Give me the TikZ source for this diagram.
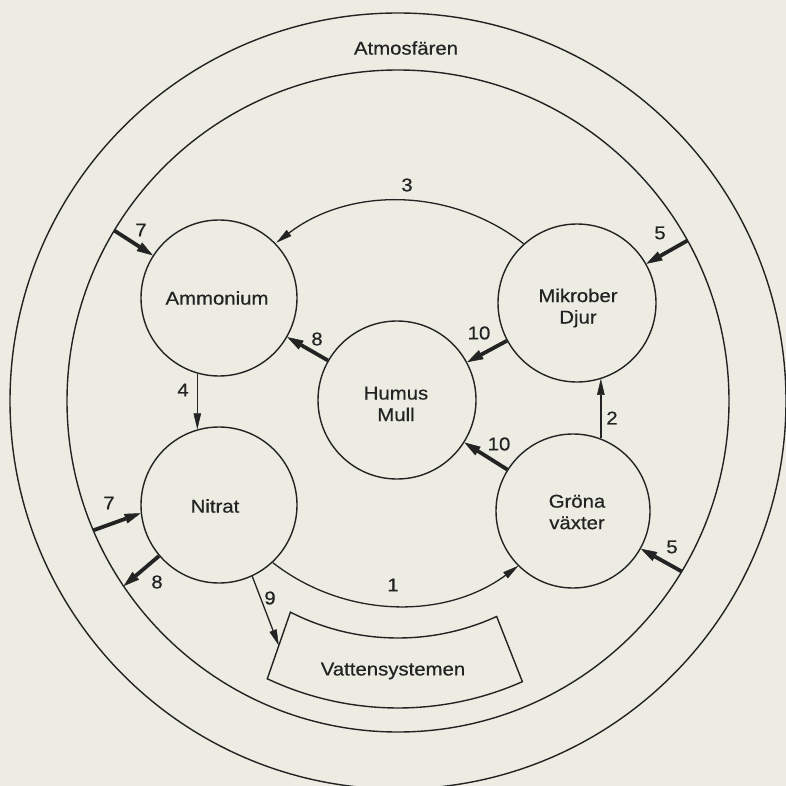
\documentclass[tikz,border=0pt]{standalone}
\usepackage{fontspec}
\setmainfont{Liberation Sans}[FakeStretch=1.1,FakeBold=0.5]
\usetikzlibrary{arrows.meta,calc}
\definecolor{bg}{RGB}{236,236,227}
\definecolor{ink}{RGB}{35,35,35}
\begin{document}
\begin{tikzpicture}[x=1pt,y=-1pt,
  txt/.style={font=\fontsize{18.5}{21.5}\selectfont, text=ink},
  ring/.style={draw=ink, line width=1.4pt},
  circ/.style={circle, draw=ink, line width=1.4pt, inner sep=0pt},
  thinarrow/.style={draw=ink, line width=1.3pt, -{Triangle[length=16pt,width=7.5pt,line width=0.5pt]}},
  thickarrow/.style={draw=ink, line width=3.8pt, -{Triangle[length=16pt,width=10pt,line width=0.5pt]}},
  lab/.style={txt, inner sep=0pt, align=center},
]
\fill[bg] (0,0) rectangle (786,786);
\useasboundingbox (0,0) rectangle (786,786);
\coordinate (C) at (398,401);
\begin{scope}
  \clip (0,0) rectangle (786,786);
  \draw[ring] (C) circle[radius=388];
\end{scope}
\draw[ring] (C) circle[radius=331];

% compartments
\node[circ, minimum size=156pt] (amm) at (219,298) {};
\node[circ, minimum size=158pt] (mik) at (577,303) {};
\node[circ, minimum size=158pt] (hum) at (397,400) {};
\node[circ, minimum size=156pt] (nit) at (219,505) {};
\node[circ, minimum size=154pt] (gro) at (573,511) {};
\node[lab] (tamm) at (217,298) {Ammonium};
\node[lab] (tmik) at (578,308) {Mikrober\\Djur};
\node[lab] (thum) at (396,404) {Humus\\Mull};
\node[lab] (tnit) at (215,506) {Nitrat};
\node[lab] (tgro) at (577,512) {Gröna\\växter};

% Vattensystemen box (annular sector)
\draw[ring] ($(C)+(65.4:237)$) arc[start angle=65.4, end angle=117, radius=237]
  -- ($(C)+(115.2:307)$) arc[start angle=115.2, end angle=66.1, radius=307] -- cycle;
\node[lab] (vat) at (393,671) {Vattensystemen};
\coordinate (vleft) at ($(C)+(116:272)$);

% points on the soil boundary
\path (C) ++(-149:331) coordinate (s7a);
\path (C) ++(-29:331) coordinate (s5a);
\path (C) ++(157:331) coordinate (s7b);
\path (C) ++(146:331) coordinate (s8b);
\path (C) ++(31:331) coordinate (s5b);

% thick arrows
\draw[thickarrow] (s7a) -- (amm);
\draw[thickarrow] (s5a) -- (mik);
\draw[thickarrow] (mik) -- (hum);
\draw[thickarrow] (hum) -- (amm);
\draw[thickarrow] (gro) -- (hum);
\draw[thickarrow] (s7b) -- (nit.-174);
\draw[thickarrow] (nit) -- (s8b);
\draw[thickarrow] (s5b) -- (gro);

% thin arrows
\draw[thinarrow] (amm.-106) -- (nit.106);
\draw[thinarrow] (gro.69) -- (gro.69 |- mik.-72);
\draw[thinarrow] (mik.132) arc[start angle=-52, end angle=-127.5, radius=202];
\draw[thinarrow] (nit.-47) arc[start angle=128, end angle=53.5, radius=203];
\draw[thinarrow] (nit.-65) -- (vleft);

% labels
\node[lab] (latm) at (406,48) {Atmosfären};
\node[lab] (l3) at (407,185) {3};
\node[lab] (l7a) at (141,230) {7};
\node[lab] (l5a) at (660,233) {5};
\node[lab] (l10a) at (479,333) {10};
\node[lab] (l8a) at (317,339) {8};
\node[lab] (l4) at (183,390) {4};
\node[lab] (l2) at (612,418) {2};
\node[lab] (l10b) at (499,444) {10};
\node[lab] (l7b) at (109,503) {7};
\node[lab] (l5b) at (672,547) {5};
\node[lab] (l8b) at (157,582) {8};
\node[lab] (l9) at (270,598) {9};
\node[lab] (l1) at (393,585) {1};
\end{tikzpicture}
\end{document}
